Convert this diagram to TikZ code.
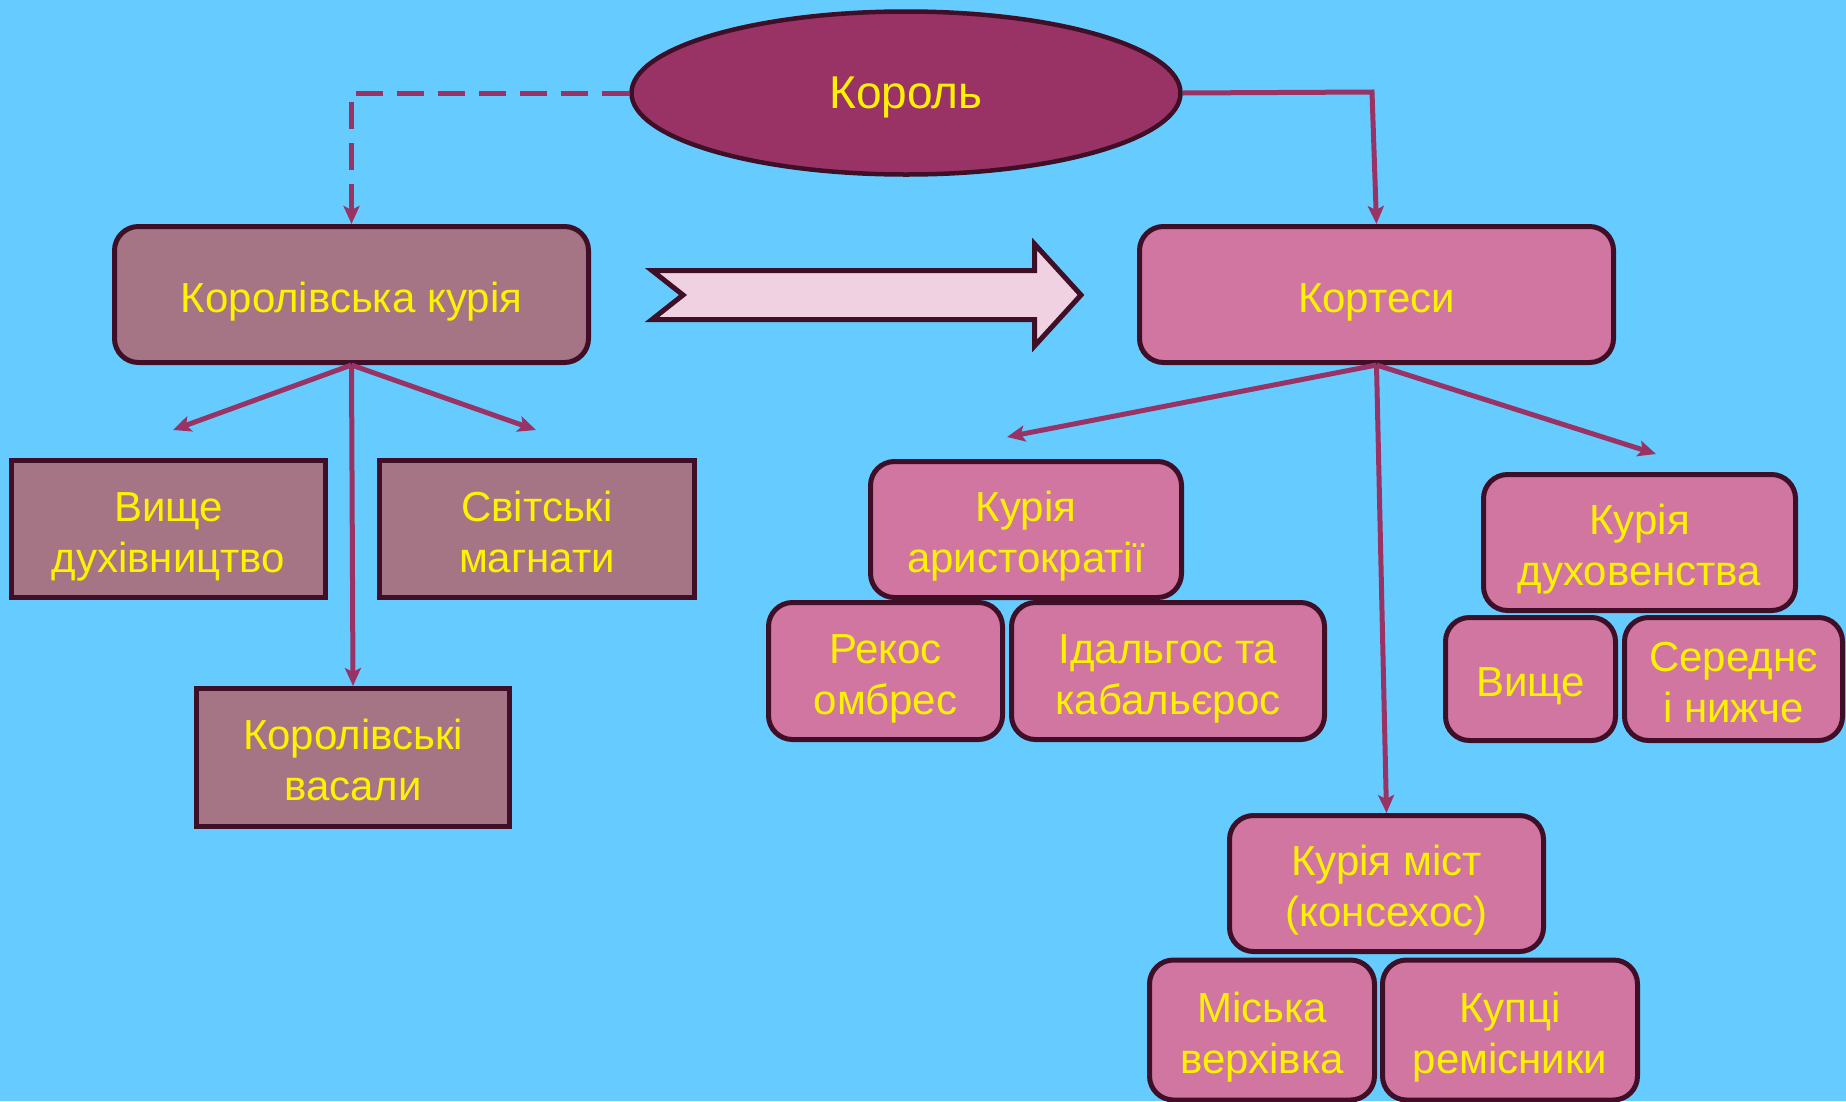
\documentclass[tikz,border=0pt]{standalone}
\usepackage{fontspec}
\setmainfont{Liberation Sans}
\usetikzlibrary{positioning,arrows.meta,shapes.geometric}
\definecolor{bgblue}{HTML}{66CCFF}
\definecolor{edgecol}{HTML}{3F0F27}
\definecolor{mauvefill}{HTML}{A57585}
\definecolor{pinkfill}{HTML}{D076A0}
\definecolor{kingfill}{HTML}{993366}
\definecolor{linkcol}{HTML}{993366}
\definecolor{arrowfill}{HTML}{F0D1E1}
\newcommand{\lift}{\rule{0pt}{44pt}}
\newcommand{\sink}{\rule[-9pt]{0pt}{9pt}}
\tikzset{box/.style={draw=edgecol,line width=5pt,text=yellow,align=center,inner sep=0pt,font=\fontsize{42}{51}\selectfont}}
\tikzset{mauvebox/.style={box,fill=mauvefill}}
\tikzset{roundmauve/.style={mauvebox,rounded corners=24pt}}
\tikzset{pinkbox/.style={box,fill=pinkfill,rounded corners=24pt}}
\tikzset{link/.style={draw=linkcol,line width=5pt,-{Stealth[length=18pt,width=16pt,inset=4pt]}}}

\begin{document}
\begin{tikzpicture}[x=1pt,y=-1pt]
  \fill[bgblue] (0,0) rectangle (1846,1101);
  \useasboundingbox (0,0) rectangle (1846,1101);
  % top
  \node[ellipse,draw=edgecol,fill=kingfill,line width=4.5pt,inner sep=0pt,minimum width=549pt,minimum height=163pt,text=yellow,font=\fontsize{46}{52}\selectfont] (korol) at (906,93) {\rule{0pt}{40pt}Король};
  \node[roundmauve,minimum width=474pt,minimum height=136pt] (kuria) at (351.5,294.5) {\lift Королівська курія\sink};
  \node[pinkbox,minimum width=474pt,minimum height=136pt] (kortesy) at (1376.5,294.5) {\lift Кортеси\sink};
  % big arrow
  \draw[draw=edgecol,fill=arrowfill,line width=5pt,line join=miter]
    (652,270.5) -- (1034.5,270.5) -- (1034.5,244) -- (1081,295) -- (1034.5,346)
    -- (1034.5,319.5) -- (652,319.5) -- (683,295) -- cycle;
  % left part
  \node[mauvebox,minimum width=314pt,minimum height=137pt] (vyshche) at (168.5,529) {\lift Вище\\духівництво\sink};
  \node[mauvebox,minimum width=315pt,minimum height=137pt] (svitski) at (537,529) {\lift Світські\\магнати\sink};
  \node[mauvebox,minimum width=313pt,minimum height=138pt] (vasaly) at (353,757.5) {\lift Королівські\\васали\sink};
  % right part
  \node[pinkbox,minimum width=311pt,minimum height=136pt] (aryst) at (1026,529.5) {\lift Курія\\аристократії\sink};
  \node[pinkbox,minimum width=234pt,minimum height=137pt] (rekos) at (885.5,671) {\lift Рекос\\омбрес\sink};
  \node[pinkbox,minimum width=313pt,minimum height=137pt] (idalgos) at (1168,671) {\lift Ідальгос та\\кабальєрос\sink};
  \node[pinkbox,minimum width=312pt,minimum height=136pt] (duhov) at (1639.5,542.5) {\lift Курія\\духовенства\sink};
  \node[pinkbox,minimum width=170pt,minimum height=123pt] (vyshchedh) at (1530.5,679) {\lift Вище\sink};
  \node[pinkbox,minimum width=218pt,minimum height=123pt] (seredne) at (1733.5,679) {\lift Середнє\\і нижче\sink};
  \node[pinkbox,minimum width=314pt,minimum height=136pt] (mist) at (1386.5,883.5) {\lift Курія міст\\(консехос)\sink};
  \node[pinkbox,minimum width=225pt,minimum height=140pt] (miska) at (1262,1030) {\lift Міська\\верхівка\sink};
  \node[pinkbox,minimum width=255pt,minimum height=140pt] (kuptsi) at (1510,1030) {\lift Купці\\ремісники\sink};
  % connectors
  \coordinate (kbend) at (1372,92);
  \coordinate (kvyshche) at (173,430);
  \coordinate (ksvitski) at (536,430);
  \coordinate (karyst) at (1007,437);
  \coordinate (kduhov) at (1656,454);
  \draw[link,dashed,dash pattern=on 27pt off 14pt] (korol.west) -| (kuria.north);
  \draw[link] (korol.east) -- (kbend) -- (kortesy.north);
  \draw[link] (kuria.south) -- (kvyshche);
  \draw[link] (kuria.south) -- (ksvitski);
  \draw[link] (kuria.south) -- (vasaly.north);
  \draw[link] (kortesy.south) -- (karyst);
  \draw[link] (kortesy.south) -- (kduhov);
  \draw[link] (kortesy.south) -- (mist.north);
\end{tikzpicture}
\end{document}
